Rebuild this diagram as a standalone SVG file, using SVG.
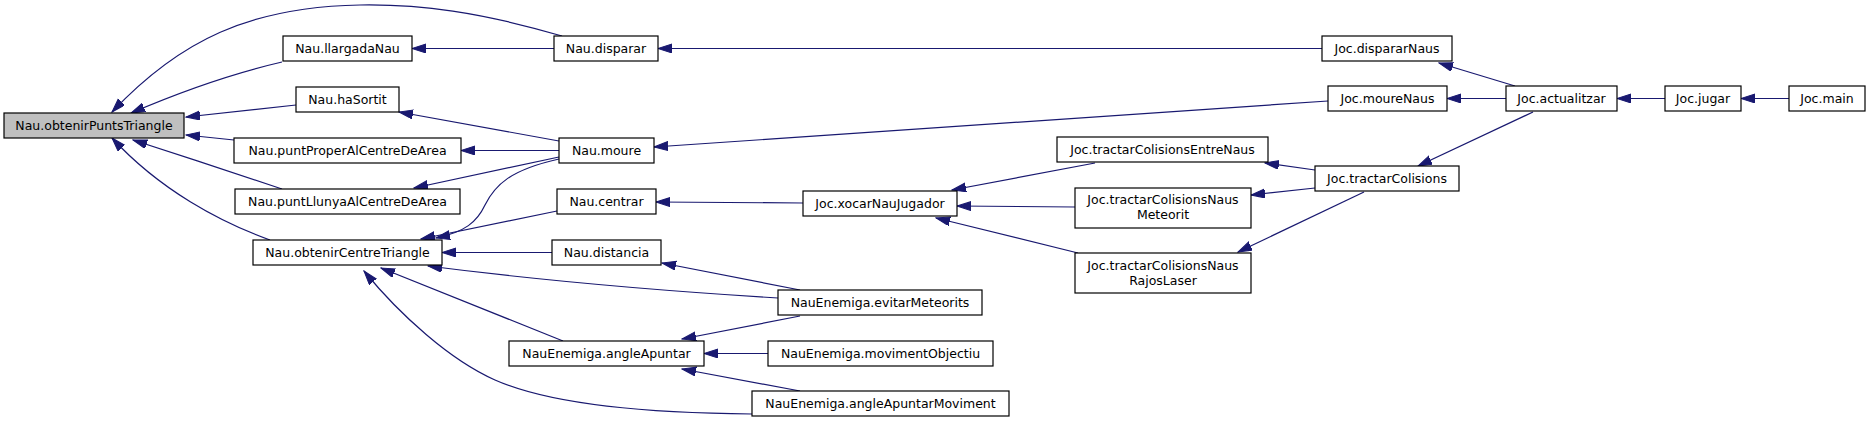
<svg xmlns="http://www.w3.org/2000/svg" width="1871" height="423" viewBox="0 0 1871 423">
<style>
.n rect{fill:#fff;stroke:#000;stroke-width:1.2}
.n.cur rect{fill:#bfbfbf}
.n text{font-family:"DejaVu Sans",sans-serif;font-size:12.5px;fill:#000;text-anchor:middle}
.e path{fill:none;stroke:#191970;stroke-width:1.2;marker-end:url(#ah)}
</style>
<defs>
<marker id="ah" markerUnits="userSpaceOnUse" markerWidth="15" markerHeight="10" refX="14" refY="4.5" orient="auto">
<path d="M0,0 L14,4.5 L0,9 z" fill="#191970" stroke="#191970" stroke-width="1"/>
</marker>
</defs>
<rect width="1871" height="423" fill="#fff"/>
<g id="edges" class="e">
<path d="M562,36 C480,12 420,4 360,5 C250,7 180,40 112,112"/>
<path d="M282,62 C230,74 180,92 131,113"/>
<path d="M296,105 L186,117"/>
<path d="M234,140 L186,135"/>
<path d="M282,189 C240,175 180,155 133,140"/>
<path d="M270,240 C220,222 160,190 112,138"/>
<path d="M554,48.5 L412,48.5"/>
<path d="M559,141 L399,112"/>
<path d="M559,150.5 L461,150.5"/>
<path d="M559,157 L414,188"/>
<path d="M559,159 C510,170 495,185 485,205 C477,222 465,232 436,238"/>
<path d="M557,211 L421,239"/>
<path d="M552,252.5 L442,252.5"/>
<path d="M778,298 C680,292 560,283 428,266"/>
<path d="M800,290 L662,263"/>
<path d="M563,341 L381,268"/>
<path d="M752,414 C620,413 540,400 495,380 C450,360 400,315 364,271"/>
<path d="M800,316 L682,339"/>
<path d="M768,353.5 L704,353.5"/>
<path d="M800,391 L682,369"/>
<path d="M1322,48.5 L658,48.5"/>
<path d="M1328,101 L654,147"/>
<path d="M803,203 L656,202"/>
<path d="M1095,163 L952,190"/>
<path d="M1075,207 L957,206"/>
<path d="M1078,253 L936,218"/>
<path d="M1315,170 L1265,163"/>
<path d="M1315,188 L1251,195"/>
<path d="M1364,192 L1238,252"/>
<path d="M1515,86 L1439,63"/>
<path d="M1506,98.5 L1447,98.5"/>
<path d="M1533,112 L1418,166"/>
<path d="M1665,98.5 L1617,98.5"/>
<path d="M1789,98.5 L1741,98.5"/>
</g>
<g id="n_obtenirPuntsTriangle" class="n cur"><rect x="4" y="113" width="180" height="25"/><text x="94" y="130">Nau.obtenirPuntsTriangle</text></g>
<g id="n_llargadaNau" class="n"><rect x="283" y="36" width="129" height="25"/><text x="347.5" y="53">Nau.llargadaNau</text></g>
<g id="n_disparar" class="n"><rect x="554" y="36" width="104" height="25"/><text x="606" y="53">Nau.disparar</text></g>
<g id="n_haSortit" class="n"><rect x="296" y="87" width="103" height="25"/><text x="347.5" y="104">Nau.haSortit</text></g>
<g id="n_puntProper" class="n"><rect x="234" y="138" width="227" height="25"/><text x="347.5" y="155">Nau.puntProperAlCentreDeArea</text></g>
<g id="n_moure" class="n"><rect x="559" y="138" width="95" height="25"/><text x="606.5" y="155">Nau.moure</text></g>
<g id="n_puntLlunya" class="n"><rect x="235" y="189" width="225" height="25"/><text x="347.5" y="206">Nau.puntLlunyaAlCentreDeArea</text></g>
<g id="n_centrar" class="n"><rect x="557" y="189" width="99" height="25"/><text x="606.5" y="206">Nau.centrar</text></g>
<g id="n_obtenirCentreTriangle" class="n"><rect x="253" y="240" width="189" height="25"/><text x="347.5" y="257">Nau.obtenirCentreTriangle</text></g>
<g id="n_distancia" class="n"><rect x="552" y="240" width="109" height="25"/><text x="606.5" y="257">Nau.distancia</text></g>
<g id="n_angleApuntar" class="n"><rect x="509" y="341" width="195" height="25"/><text x="606.5" y="358">NauEnemiga.angleApuntar</text></g>
<g id="n_evitarMeteorits" class="n"><rect x="778" y="290" width="204" height="25"/><text x="880" y="307">NauEnemiga.evitarMeteorits</text></g>
<g id="n_movimentObjectiu" class="n"><rect x="768" y="341" width="225" height="25"/><text x="880.5" y="358">NauEnemiga.movimentObjectiu</text></g>
<g id="n_angleApuntarMoviment" class="n"><rect x="752" y="391" width="257" height="25"/><text x="880.5" y="408">NauEnemiga.angleApuntarMoviment</text></g>
<g id="n_xocarNauJugador" class="n"><rect x="803" y="191" width="154" height="25"/><text x="880" y="208">Joc.xocarNauJugador</text></g>
<g id="n_tractarColisionsEntreNaus" class="n"><rect x="1057" y="137" width="211" height="25"/><text x="1162.5" y="154">Joc.tractarColisionsEntreNaus</text></g>
<g id="n_tractarColisionsNausMeteorit" class="n"><rect x="1075" y="188" width="176" height="40"/><text x="1163" y="204">Joc.tractarColisionsNaus</text><text x="1163" y="219">Meteorit</text></g>
<g id="n_tractarColisionsNausRajosLaser" class="n"><rect x="1075" y="253" width="176" height="40"/><text x="1163" y="270">Joc.tractarColisionsNaus</text><text x="1163" y="285">RajosLaser</text></g>
<g id="n_dispararNaus" class="n"><rect x="1322" y="36" width="130" height="25"/><text x="1387" y="53">Joc.dispararNaus</text></g>
<g id="n_moureNaus" class="n"><rect x="1328" y="86" width="119" height="25"/><text x="1387.5" y="103">Joc.moureNaus</text></g>
<g id="n_tractarColisions" class="n"><rect x="1315" y="166" width="144" height="25"/><text x="1387" y="183">Joc.tractarColisions</text></g>
<g id="n_actualitzar" class="n"><rect x="1506" y="86" width="111" height="25"/><text x="1561.5" y="103">Joc.actualitzar</text></g>
<g id="n_jugar" class="n"><rect x="1665" y="86" width="76" height="25"/><text x="1703" y="103">Joc.jugar</text></g>
<g id="n_main" class="n"><rect x="1789" y="86" width="76" height="25"/><text x="1827" y="103">Joc.main</text></g>
</svg>
